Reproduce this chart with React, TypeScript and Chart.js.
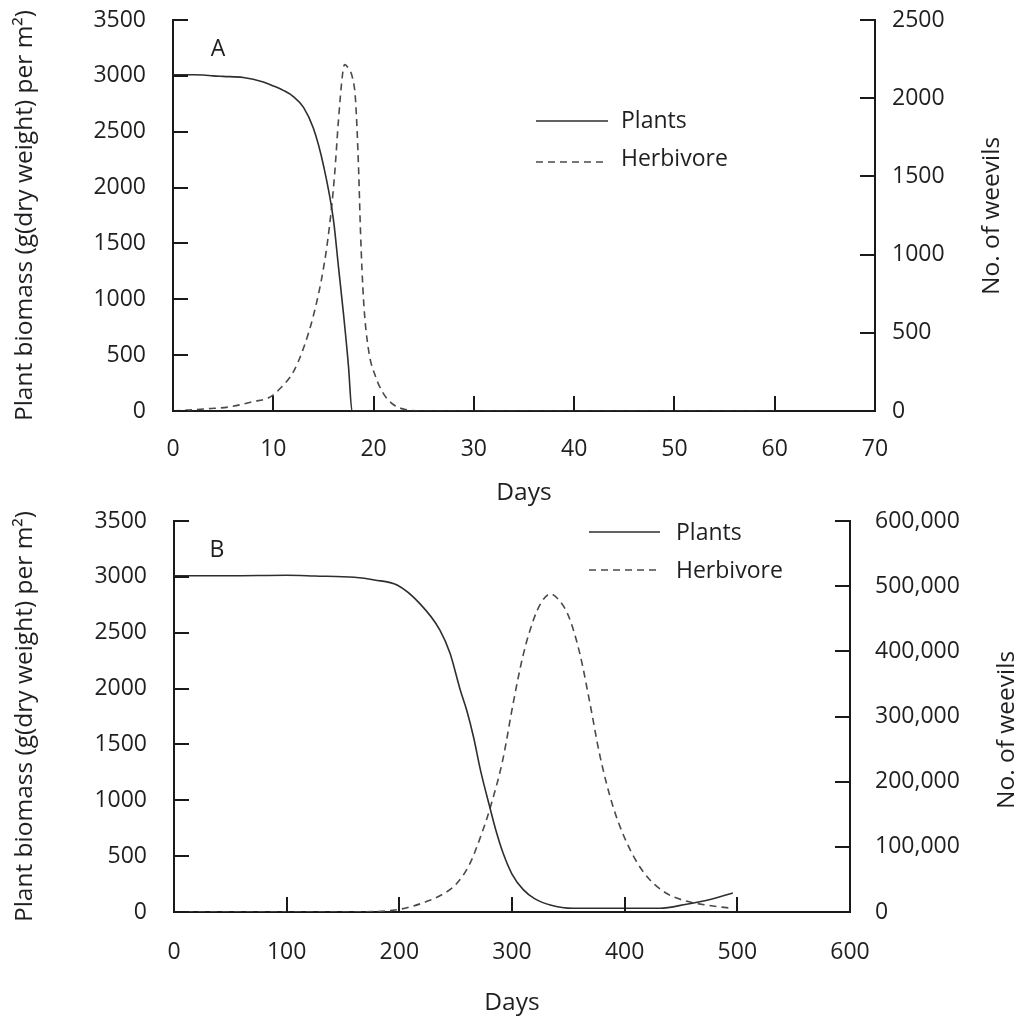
import { useEffect, useRef } from "react";
import { Chart, registerables } from "chart.js";

Chart.register(...registerables);

// ---- Panel A: short simulation (days 0-60) ----
const plantDaysA = [0, 2, 3, 4, 5, 7, 9, 10, 11, 12, 13, 14, 15, 16, 16.5, 17, 17.5, 17.85, 20, 30, 40, 50, 60];
const plantsA = [3010, 3010, 3008, 3000, 2995, 2985, 2945, 2910, 2870, 2815, 2720, 2530, 2200, 1710, 1290, 870, 400, 0, 0, 0, 0, 0, 0];

const herbDaysA = [0, 3.5, 5.5, 8, 9.7, 10.7, 12, 13, 14, 15, 15.6, 16.1, 16.5, 16.9, 17.1, 17.5, 17.9, 18.2, 18.5, 18.7, 19, 19.5, 20.2, 21, 22, 23, 25, 30, 40, 50, 60];
const herbivoreA = [0, 15, 25, 60, 90, 145, 250, 400, 610, 910, 1180, 1500, 1860, 2150, 2215, 2190, 2130, 1990, 1560, 1140, 710, 390, 220, 110, 40, 12, 0, 0, 0, 0, 0];

const dayTicksA = [0, 10, 20, 30, 40, 50, 60, 70];
const biomassTicks = [0, 500, 1000, 1500, 2000, 2500, 3000, 3500];
const weevilTicksA = [0, 500, 1000, 1500, 2000, 2500];

// ---- Panel B: long simulation (days 0-500) ----
const plantDaysB = [0, 50, 100, 125, 160, 178, 198, 218, 236, 245, 254, 260, 266, 272, 280, 286, 292, 300, 310, 320, 334, 354, 400, 431, 455, 475, 496];
const plantsB = [3010, 3010, 3015, 3008, 2996, 2972, 2927, 2763, 2524, 2316, 1990, 1800, 1560, 1270, 950, 720, 530, 340, 200, 120, 63, 33, 33, 33, 70, 110, 170];

const herbDaysB = [0, 150, 194, 212, 224, 236, 250, 262, 272, 281, 292, 301, 310, 319, 326, 334, 342, 350, 360, 369, 378, 390, 405, 420, 437, 452, 473, 496];
const herbivoreB = [0, 0, 2500, 9000, 16000, 25000, 42000, 72000, 115000, 162000, 235000, 320000, 395000, 448000, 475000, 488000, 478000, 455000, 398000, 322000, 240000, 160000, 95000, 54000, 28700, 18000, 10500, 5500];

const dayTicksB = [0, 100, 200, 300, 400, 500, 600];
const weevilTicksB = [0, 100000, 200000, 300000, 400000, 500000, 600000];

const seriesNames = ["Plants", "Herbivore"];

const FONT_FAMILY = "'Open Sans', 'DejaVu Sans', sans-serif";
const TEXT = "#1f1f22";
const AXIS = "#1a1a1a";
const TICK_SIZE = 23;
const TITLE_SIZE = 24.5;

const zip = (xs: number[], ys: number[]) => xs.map((x, i) => ({ x, y: ys[i] }));
const stepOf = (t: number[]) => t[1] - t[0];

// Ticks pointing into the plot area, on every axis.
const inwardTicks = {
  id: "inwardTicks",
  afterDatasetsDraw(chart: any, _a: any, opts: any) {
    const ctx = chart.ctx;
    const { left, right, bottom } = chart.chartArea;
    ctx.save();
    ctx.strokeStyle = opts.color;
    ctx.lineWidth = opts.width;
    for (const id of Object.keys(chart.scales)) {
      const s = chart.scales[id];
      for (const t of s.ticks) {
        const p = Math.round(s.getPixelForValue(t.value));
        ctx.beginPath();
        if (s.isHorizontal()) {
          ctx.moveTo(p, bottom);
          ctx.lineTo(p, bottom - opts.length);
        } else if (s.position === "left") {
          ctx.moveTo(left, p);
          ctx.lineTo(left + opts.length, p);
        } else {
          ctx.moveTo(right, p);
          ctx.lineTo(right - opts.length, p);
        }
        ctx.stroke();
      }
    }
    ctx.restore();
  },
};

// Panel letter, in-plot legend and the right-hand axis title (read bottom to top).
const panelNotes = {
  id: "panelNotes",
  afterDraw(chart: any, _a: any, opts: any) {
    const ctx = chart.ctx;
    ctx.save();
    ctx.fillStyle = TEXT;
    ctx.font = `${TICK_SIZE}px ${FONT_FAMILY}`;
    ctx.textBaseline = "middle";

    // panel letter placed in data space
    const lx = chart.scales.x.getPixelForValue(opts.letterAt[0]);
    const ly = chart.scales.y.getPixelForValue(opts.letterAt[1]);
    ctx.textAlign = "center";
    ctx.fillText(opts.letter, lx, ly);

    // legend
    const lg = opts.legend;
    chart.data.datasets.forEach((ds: any, i: number) => {
      const y = lg.rows[i];
      ctx.save();
      ctx.strokeStyle = ds.borderColor;
      ctx.lineWidth = ds.borderWidth;
      ctx.setLineDash(ds.borderDash || []);
      ctx.beginPath();
      ctx.moveTo(lg.x0, y);
      ctx.lineTo(lg.x1, y);
      ctx.stroke();
      ctx.restore();
      ctx.textAlign = "left";
      ctx.fillText(ds.label, lg.textX, lg.textRows[i]);
    });

    // right axis title
    const r = opts.rightTitle;
    ctx.save();
    ctx.font = `${TITLE_SIZE}px ${FONT_FAMILY}`;
    ctx.translate(r.x, r.y);
    ctx.rotate(-Math.PI / 2);
    ctx.textAlign = "center";
    ctx.fillText(r.text, 0, 0);
    ctx.restore();

    ctx.restore();
  },
};

type PanelSpec = {
  plantDays: number[];
  plants: number[];
  herbDays: number[];
  herbivore: number[];
  dayTicks: number[];
  weevilTicks: number[];
  weevilLabel: (v: number) => string;
  sizes: {
    height: number;
    padTop: number;
    xHeight: number;
    leftWidth: number;
    rightWidth: number;
    xTickPad: number;
    rightTickPad: number;
    daysPadBottom: number;
  };
  notes: any;
};

// fixed scale box sizes; the vertical label overhang is already inside the layout padding
const fixWidth = (w: number) => (s: any) => {
  s.width = w;
  s.paddingTop = 0;
  s.paddingBottom = 0;
};

function buildConfig(p: PanelSpec): any {
  const font = { family: FONT_FAMILY, size: TICK_SIZE };
  const titleFont = { family: FONT_FAMILY, size: TITLE_SIZE };
  return {
    type: "line",
    data: {
      datasets: [
        {
          label: seriesNames[0],
          data: zip(p.plantDays, p.plants),
          yAxisID: "y",
          borderColor: "#2e2e2e",
          borderWidth: 1.6,
          pointRadius: 0,
          cubicInterpolationMode: "monotone",
        },
        {
          label: seriesNames[1],
          data: zip(p.herbDays, p.herbivore),
          yAxisID: "y2",
          borderColor: "#4a4a4a",
          borderWidth: 1.6,
          borderDash: [7, 5],
          pointRadius: 0,
          cubicInterpolationMode: "monotone",
        },
      ],
    },
    options: {
      animation: false,
      responsive: false,
      maintainAspectRatio: false,
      events: [],
      layout: { padding: { top: p.sizes.padTop, left: 0, right: 0, bottom: 0 } },
      plugins: {
        legend: { display: false },
        tooltip: { enabled: false },
        title: { display: false },
        inwardTicks: { color: AXIS, width: 2, length: 15 },
        panelNotes: p.notes,
      },
      scales: {
        x: {
          type: "linear",
          position: "bottom",
          min: p.dayTicks[0],
          max: p.dayTicks[p.dayTicks.length - 1],
          ticks: {
            stepSize: stepOf(p.dayTicks),
            padding: p.sizes.xTickPad,
            font,
            color: TEXT,
            maxRotation: 0,
            callback: (v: number) => String(v),
          },
          grid: { display: false, drawTicks: false },
          border: { display: true, color: AXIS, width: 2 },
          title: {
            display: true,
            text: "Days",
            font: titleFont,
            color: TEXT,
            padding: { top: 0, bottom: p.sizes.daysPadBottom },
          },
          afterFit: (s: any) => {
            s.height = p.sizes.xHeight;
          },
        },
        y: {
          type: "linear",
          position: "left",
          min: biomassTicks[0],
          max: biomassTicks[biomassTicks.length - 1],
          ticks: {
            stepSize: stepOf(biomassTicks),
            padding: 27,
            font,
            color: TEXT,
            callback: (v: number) => String(v),
          },
          grid: { display: false, drawTicks: false },
          border: { display: true, color: AXIS, width: 2 },
          title: {
            display: true,
            text: "Plant biomass (g(dry weight) per m²)",
            font: titleFont,
            color: TEXT,
            padding: { top: 10, bottom: 0 },
          },
          afterFit: fixWidth(p.sizes.leftWidth),
        },
        y2: {
          type: "linear",
          position: "right",
          min: p.weevilTicks[0],
          max: p.weevilTicks[p.weevilTicks.length - 1],
          ticks: {
            stepSize: stepOf(p.weevilTicks),
            padding: p.sizes.rightTickPad,
            font,
            color: TEXT,
            callback: p.weevilLabel,
          },
          grid: { display: false, drawTicks: false },
          border: { display: true, color: AXIS, width: 2 },
          title: { display: false },
          afterFit: fixWidth(p.sizes.rightWidth),
        },
      },
    },
    plugins: [inwardTicks, panelNotes],
  };
}

const panelA: PanelSpec = {
  plantDays: plantDaysA,
  plants: plantsA,
  herbDays: herbDaysA,
  herbivore: herbivoreA,
  dayTicks: dayTicksA,
  weevilTicks: weevilTicksA,
  weevilLabel: (v: number) => String(v),
  sizes: {
    height: 506,
    padTop: 20,
    xHeight: 95,
    leftWidth: 173,
    rightWidth: 149,
    xTickPad: 25,
    rightTickPad: 17,
    daysPadBottom: -1.5,
  },
  notes: {
    letter: "A",
    letterAt: [4.5, 3240],
    legend: { x0: 536, x1: 608, rows: [121, 162], textX: 621, textRows: [121, 159] },
    rightTitle: { text: "No. of weevils", x: 992, y: 216 },
  },
};

const panelB: PanelSpec = {
  plantDays: plantDaysB,
  plants: plantsB,
  herbDays: herbDaysB,
  herbivore: herbivoreB,
  dayTicks: dayTicksB,
  weevilTicks: weevilTicksB,
  weevilLabel: (v: number) => v.toLocaleString("en-US"),
  sizes: {
    height: 517,
    padTop: 15,
    xHeight: 111,
    leftWidth: 174,
    rightWidth: 174,
    xTickPad: 27,
    rightTickPad: 25,
    daysPadBottom: 5,
  },
  notes: {
    letter: "B",
    letterAt: [38, 3240],
    legend: { x0: 589, x1: 660, rows: [26, 64], textX: 676, textRows: [27, 65] },
    rightTitle: { text: "No. of weevils", x: 1007, y: 224 },
  },
};

function Panel({ spec, top }: { spec: PanelSpec; top: number }) {
  const ref = useRef<HTMLCanvasElement | null>(null);
  useEffect(() => {
    if (!ref.current) return;
    const chart = new Chart(ref.current, buildConfig(spec));
    return () => chart.destroy();
  }, [spec]);
  return (
    <canvas
      ref={ref}
      width={1024}
      height={spec.sizes.height}
      style={{ position: "absolute", left: 0, top, width: 1024, height: spec.sizes.height, display: "block" }}
    />
  );
}

export default function App() {
  return (
    <div style={{ position: "absolute", left: 0, top: 0, width: 1024, height: 1023, background: "#fff" }}>
      <Panel spec={panelA} top={0} />
      <Panel spec={panelB} top={506} />
    </div>
  );
}
